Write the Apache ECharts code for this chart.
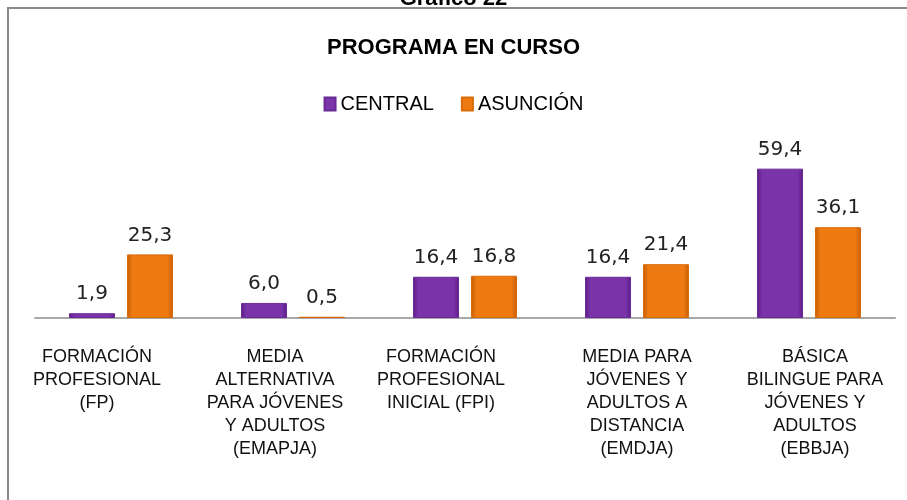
<!DOCTYPE html>
<html>
<head>
<meta charset="utf-8">
<script src="https://cdn.jsdelivr.net/npm/echarts@6.0.0/dist/echarts.min.js"></script>
<style>
  html, body { margin: 0; padding: 0; background: #fff; }
  #chart { width: 907px; height: 500px; }
</style>
</head>
<body>
<div id="chart"></div>
<script>
// datos del gráfico
var categorias = [
  'FORMACIÓN\nPROFESIONAL\n(FP)',
  'MEDIA\nALTERNATIVA\nPARA JÓVENES\nY ADULTOS\n(EMAPJA)',
  'FORMACIÓN\nPROFESIONAL\nINICIAL (FPI)',
  'MEDIA PARA\nJÓVENES Y\nADULTOS A\nDISTANCIA\n(EMDJA)',
  'BÁSICA\nBILINGUE PARA\nJÓVENES Y\nADULTOS\n(EBBJA)'
];
var central = [1.9, 6.0, 16.4, 16.4, 59.4];
var asuncion = [25.3, 0.5, 16.8, 21.4, 36.1];

// desplazamiento horizontal de las etiquetas (como en Excel)
var desplaza = [-24, -18, -24, 0, 6];

var fuente = "'Liberation Sans', Arial, sans-serif";

function grad(edge, mid) {
  return new echarts.graphic.LinearGradient(0, 0, 1, 0, [
    { offset: 0, color: edge },
    { offset: 0.12, color: mid },
    { offset: 0.88, color: mid },
    { offset: 1, color: edge }
  ]);
}

function etiqueta(p) {
  return p.value.toFixed(1).replace('.', ',');
}

var catData = categorias.map(function (c, i) {
  var d = desplaza[i];
  return {
    value: c,
    textStyle: { padding: d < 0 ? [0, -2 * d, 0, 0] : [0, 0, 0, 2 * d] }
  };
});

var myChart = echarts.init(document.getElementById('chart'));
var option = {
  animation: false,
  backgroundColor: '#fff',
  title: [{
    text: 'Gráfico 22',
    left: 'center',
    top: -17,
    textStyle: { fontFamily: fuente, fontSize: 22, fontWeight: 'bold', color: '#000' }
  }, {
    text: 'PROGRAMA EN CURSO',
    left: 'center',
    top: 32,
    textStyle: { fontFamily: fuente, fontSize: 22, fontWeight: 'bold', color: '#000' }
  }],
  graphic: [{
    type: 'rect',
    shape: { x: 8, y: 8, width: 1000, height: 700 },
    style: { fill: 'none', stroke: '#8a8a8a', lineWidth: 2 },
    z: -1
  }],
  legend: {
    top: 89,
    left: 'center',
    itemWidth: 11,
    itemHeight: 13,
    itemGap: 27,
    textStyle: { fontFamily: fuente, fontSize: 20, color: '#000' },
    data: [
      { name: 'CENTRAL', icon: 'rect', itemStyle: { color: '#7a33a8' } },
      { name: 'ASUNCIÓN', icon: 'rect', itemStyle: { color: '#ef7a12' } }
    ]
  },
  grid: { left: 35, right: 12, top: 142, bottom: 182 },
  xAxis: {
    type: 'category',
    data: catData,
    axisLine: { lineStyle: { color: '#a8a8a8', width: 2 } },
    axisTick: { show: false },
    axisLabel: {
      interval: 0,
      margin: 28,
      fontFamily: fuente,
      fontSize: 18,
      lineHeight: 23,
      color: '#111'
    }
  },
  yAxis: {
    type: 'value',
    min: 0,
    max: 70,
    show: false,
    splitLine: { show: false }
  },
  series: [{
    name: 'CENTRAL',
    type: 'bar',
    data: central,
    barWidth: 46,
    barGap: '26%',
    itemStyle: { color: grad('#5c1f86', '#7a33a8'), borderColor: '#6a2a96', borderWidth: 1 },
    label: {
      show: true, position: 'top', distance: 9,
      formatter: etiqueta,
      fontFamily: "'DejaVu Sans', sans-serif", fontSize: 20, color: '#222'
    }
  }, {
    name: 'ASUNCIÓN',
    type: 'bar',
    data: asuncion,
    barWidth: 46,
    itemStyle: { color: grad('#c65e06', '#ef7a12'), borderColor: '#d86a0a', borderWidth: 1 },
    label: {
      show: true, position: 'top', distance: 9,
      formatter: etiqueta,
      fontFamily: "'DejaVu Sans', sans-serif", fontSize: 20, color: '#222'
    }
  }]
};
myChart.setOption(option);
</script>
</body>
</html>
